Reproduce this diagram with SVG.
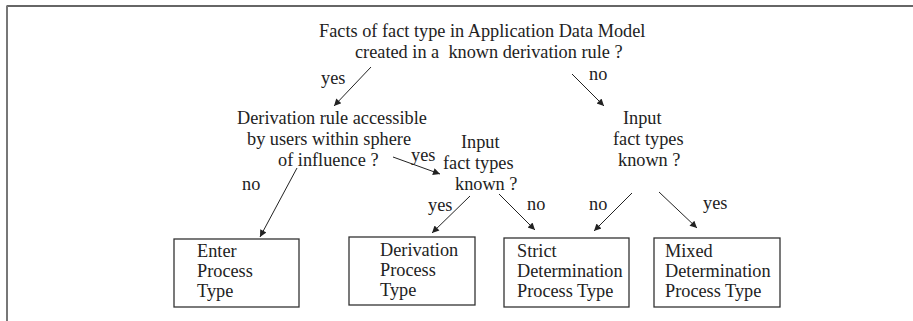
<svg xmlns="http://www.w3.org/2000/svg" width="913" height="321" viewBox="0 0 913 321" font-family="'Liberation Serif', 'DejaVu Serif', serif">
  <style>
    text { font-family: "Liberation Serif", "DejaVu Serif", serif; font-size: 18.3px; fill: #222; }
    .box { fill: #fff; stroke: #333; stroke-width: 1.3; }
    .edge { stroke: #222; stroke-width: 1; fill: none; marker-end: url(#arrow); }
  </style>
  <defs>
    <marker id="arrow" viewBox="0 0 10 10" refX="10" refY="5" markerWidth="9" markerHeight="7" markerUnits="userSpaceOnUse" orient="auto">
      <path d="M0,0 L10,5 L0,10 Z" fill="#222"/>
    </marker>
  </defs>
  <rect width="913" height="321" fill="#fff"/>

  <!-- page frame -->
  <path d="M913,6 H6.5" stroke="#333" stroke-width="1.5" fill="none"/>
  <path d="M7,6 V321" stroke="#777" stroke-width="2" fill="none"/>

  <g id="q-root">
    <text x="319" y="37">Facts of fact type in Application Data Model</text>
    <text x="355" y="58" xml:space="preserve">created in a  known derivation rule ?</text>
  </g>

  <g id="q-accessible">
    <text x="237" y="124">Derivation rule accessible</text>
    <text x="247" y="145">by users within sphere</text>
    <text x="278" y="166">of influence ?</text>
  </g>

  <g id="q-input-left">
    <text x="461" y="148">Input</text>
    <text x="443" y="169">fact types</text>
    <text x="455" y="190">known ?</text>
  </g>

  <g id="q-input-right">
    <text x="623" y="124">Input</text>
    <text x="613" y="145">fact types</text>
    <text x="618" y="166">known ?</text>
  </g>

  <g id="enter">
    <rect class="box" x="174" y="239" width="125" height="68"/>
    <text x="197" y="257">Enter</text>
    <text x="197" y="277">Process</text>
    <text x="197" y="297">Type</text>
  </g>

  <g id="derivation">
    <rect class="box" x="349" y="237" width="126" height="68"/>
    <text x="380" y="256">Derivation</text>
    <text x="380" y="276">Process</text>
    <text x="380" y="296">Type</text>
  </g>

  <g id="strict">
    <rect class="box" x="504" y="238" width="125" height="69"/>
    <text x="517" y="257">Strict</text>
    <text x="517" y="277">Determination</text>
    <text x="517" y="297">Process Type</text>
  </g>

  <g id="mixed">
    <rect class="box" x="654" y="238" width="126" height="69"/>
    <text x="665" y="257">Mixed</text>
    <text x="665" y="277">Determination</text>
    <text x="665" y="297">Process Type</text>
  </g>

  <g id="connectors">
    <line class="edge" x1="371" y1="67" x2="334" y2="106"/>
    <line class="edge" x1="572" y1="74" x2="604" y2="106"/>
    <line class="edge" x1="297" y1="168" x2="260" y2="237"/>
    <line class="edge" x1="393" y1="157" x2="440" y2="174"/>
    <line class="edge" x1="470" y1="196" x2="432" y2="233"/>
    <line class="edge" x1="499" y1="194" x2="535" y2="230"/>
    <line class="edge" x1="632" y1="193" x2="594" y2="231"/>
    <line class="edge" x1="659" y1="192" x2="697" y2="228"/>
    <text x="321" y="84">yes</text>
    <text x="589" y="80">no</text>
    <text x="242" y="190">no</text>
    <text x="411" y="161">yes</text>
    <text x="428" y="211">yes</text>
    <text x="527" y="210">no</text>
    <text x="589" y="210">no</text>
    <text x="703" y="209">yes</text>
  </g>
</svg>
